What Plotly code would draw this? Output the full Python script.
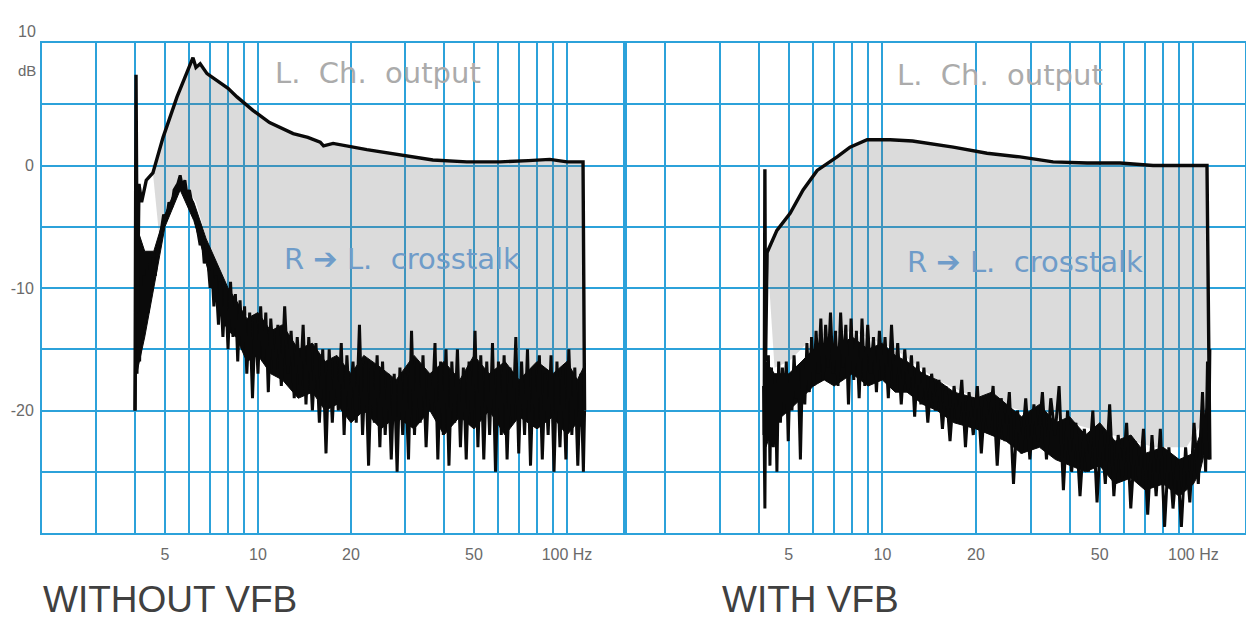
import math
import plotly.graph_objects as go

# ---------------- data ----------------
grid_freqs = [2, 3, 4, 5, 6, 7, 8, 9, 10, 20, 30, 40, 50, 60, 70, 80, 90, 100]
freq_labels = ["", "", "", "5", "", "", "", "", "10", "20", "", "", "50", "", "", "", "", "100 Hz"]
db_grid = [-30, -25, -20, -15, -10, -5, 0, 5, 10]
db_labels = ["", "", "-20", "", "-10", "", "0", "", ""]

# WITHOUT VFB : L Ch output
left_out_f = [4.0, 4.03, 4.07, 4.12, 4.2, 4.35, 4.57, 4.93, 5.47, 6.16, 6.3, 6.5, 6.84, 7.1, 7.53,
              8.0, 8.55, 9.63, 10.9, 13.0, 14.5, 15.9, 16.3, 17.5, 22.5, 28.8, 36.8, 47.4, 60.7,
              75.0, 88.0, 100.0, 112.7, 114.0]
left_out_db = [-20, 7.4, -12, -1.5, -3, -1.2, -0.6, 2.3, 5.6, 8.8, 8.0, 8.3, 7.5, 7.2, 6.7,
               6.3, 5.6, 4.5, 3.5, 2.6, 2.3, 1.9, 1.6, 1.8, 1.3, 0.9, 0.45, 0.3, 0.3,
               0.4, 0.5, 0.3, 0.3, -20]

# WITHOUT VFB : R -> L crosstalk
left_xt_f = [4.00, 4.03, 4.06, 4.10, 4.14, 4.18, 4.22, 4.27, 4.32, 4.37, 4.42, 4.47, 4.52, 4.58,
             4.65, 4.75, 4.85, 4.95, 5.05, 5.15, 5.25, 5.35, 5.5, 5.6, 5.7, 5.8, 5.9, 6.0, 6.1,
             6.2, 6.35, 6.5, 6.6, 6.7, 6.85, 7.0, 7.1, 7.2, 7.3, 7.45, 7.55, 7.7, 7.85, 8.0,
             8.15, 8.3, 8.45, 8.6, 8.75, 8.9, 9.05, 9.2, 9.4, 9.6, 9.8, 10.0, 10.2, 10.4, 10.6,
             10.8, 11.0, 11.3, 11.6, 11.9, 12.2, 12.5, 12.8, 13.1, 13.4, 13.7, 14.0, 14.3, 14.6,
             15.0, 15.4, 15.8, 16.2, 16.6, 17.0, 17.4, 17.8, 18.2, 18.6, 19.0, 19.4, 19.8, 20.3,
             20.8, 21.3, 21.8, 22.3, 22.8, 23.3, 23.8, 24.3, 24.8, 25.3, 25.8, 26.4, 27.0, 27.6,
             28.2, 28.8, 29.4, 30.0, 30.7, 31.4, 32.1, 32.8, 33.5, 34.2, 35.0, 35.8, 36.6, 37.4,
             38.2, 39.0, 39.8, 40.6, 41.5, 42.4, 43.3, 44.2, 45.2, 46.2, 47.2, 48.2, 49.3, 50.4,
             51.5, 52.6, 53.8, 55.0, 56.2, 57.4, 58.7, 60.0, 61.3, 62.6, 64.0, 65.4, 66.8, 68.3,
             69.8, 71.3, 72.9, 74.5, 76.2, 77.9, 79.6, 81.4, 83.2, 85.0, 86.9, 88.8, 90.8, 92.8,
             94.9, 97.0, 99.2, 101.4, 103.7, 106.0, 108.4, 110.8, 113.0, 114.0]
left_xt_db = [-20.0, -12, -17, -9, -16, -10, -14, -9, -13, -8.5, -12, -8, -10, -7.5,
              -9, -6.5, -5.5, -4, -4.5, -3, -3.5, -2, -1.5, -0.8, -1.8, -1.2, -2.5, -2.0, -3,
              -3.5, -5, -6.5, -5.8, -8, -7, -10, -8.5, -11.5, -9, -13, -9.5, -14, -10, -15,
              -9.5, -14, -10.5, -16, -11, -15, -11.5, -17, -12, -19, -12.5, -17, -11.5, -16, -12,
              -18.5, -12.5, -17, -13, -18, -11.5, -17, -13.5, -19, -14, -18, -13, -19.5, -14,
              -20, -14.5, -21, -15, -23.5, -15, -21, -16, -20, -14.5, -22, -15.5, -20, -16,
              -21, -13, -22, -16, -24.5, -16.5, -21, -15.5, -23, -16, -22, -17, -24, -17,
              -25, -16.5, -22, -17, -24, -13.5, -22, -16, -21, -15.5, -23, -17, -20, -14.5,
              -24, -16, -22, -15, -24.5, -16, -21, -15, -23, -16.5, -24, -16, -21, -13.5,
              -23, -15.5, -24, -16, -22, -14.5, -25, -16, -22, -15.5, -24, -16.5, -21, -14,
              -23.5, -16, -22, -15, -24.5, -16.5, -21, -15.5, -24, -17, -22, -15.5, -25, -16,
              -23, -16.5, -24, -15, -22, -16.5, -24.5, -17, -25, -20]

# solid core of the crosstalk trace, WITHOUT VFB
left_core_f = [4.05, 4.3, 4.6, 5.0, 5.6, 6.2, 6.8, 7.5, 8.0, 8.5, 9.2, 10, 11, 12, 13.5, 15, 16.5,
               18, 20, 22, 25, 28, 32, 36, 40, 45, 50, 56, 63, 70, 80, 90, 100, 108, 113]
left_core_hi = [-5, -7, -7, -4, -1, -3, -6, -8.5, -10, -11, -12.5, -12, -13.5, -13, -15, -14.5, -16,
                -15.5, -17, -15.5, -16.5, -17.5, -15.5, -17, -16, -17.5, -15.5, -17, -16, -17.5,
                -16, -17, -16, -17.5, -16.5]
left_core_lo = [-17, -14, -10, -5, -2, -4.5, -8, -12, -13.5, -14, -16, -15.5, -17, -17.5, -19, -18.5,
                -20, -19.5, -21, -20, -21.5, -20.5, -21.5, -20, -22, -20.5, -21.5, -20, -22, -20.5,
                -21.5, -20.5, -22, -21, -21.5]

# lower edge of the shaded area, WITHOUT VFB (from high to low frequency)
left_fill_low_f = [114, 90, 60, 40, 25, 16, 11, 9, 8, 7, 6.3, 5.6, 5.2, 4.8, 4.57]
left_fill_low_db = [-19, -19, -18.5, -18.5, -18, -17, -14, -12, -10, -7, -3, -1, -3.5, -6, -0.6]

# WITH VFB : L Ch output
right_out_f = [4.17, 4.19, 4.21, 4.26, 4.58, 5.05, 5.56, 6.17, 7.15, 7.87, 8.93, 10.6, 12.5,
               15.3, 16.9, 21.7, 27.7, 35.4, 45.5, 58.1, 74.2, 90.0, 110.6, 113.0]
right_out_db = [-22, -0.3, -16, -7.1, -5.3, -3.9, -2.0, -0.4, 0.7, 1.5, 2.1, 2.1, 2.0,
                1.7, 1.5, 1.0, 0.7, 0.3, 0.2, 0.2, 0.0, 0.0, 0.0, -24]

# WITH VFB : R -> L crosstalk
right_xt_f = [4.15, 4.19, 4.22, 4.26, 4.30, 4.35, 4.40, 4.46, 4.52, 4.58, 4.64, 4.70, 4.77, 4.84,
              4.91, 4.98, 5.05, 5.12, 5.20, 5.28, 5.36, 5.45, 5.54, 5.63, 5.72, 5.82, 5.92, 6.02,
              6.12, 6.23, 6.34, 6.45, 6.57, 6.69, 6.81, 6.94, 7.07, 7.2, 7.34, 7.48, 7.63, 7.78,
              7.93, 8.09, 8.25, 8.42, 8.6, 8.78, 8.97, 9.16, 9.36, 9.57, 9.78, 10.0, 10.2, 10.45,
              10.7, 10.95, 11.2, 11.5, 11.8, 12.1, 12.4, 12.7, 13.0, 13.3, 13.6, 14.0, 14.4, 14.8,
              15.2, 15.6, 16.0, 16.5, 17.0, 17.5, 18.0, 18.5, 19.0, 19.6, 20.2, 20.8, 21.4, 22.0,
              22.7, 23.4, 24.1, 24.8, 25.6, 26.4, 27.2, 28.0, 28.9, 29.8, 30.7, 31.7, 32.7, 33.7,
              34.8, 35.9, 37.0, 38.2, 39.4, 40.6, 41.9, 43.2, 44.6, 46.0, 47.5, 49.0, 50.5, 52.1,
              53.8, 55.5, 57.3, 59.1, 61.0, 62.9, 64.9, 67.0, 69.1, 71.3, 73.6, 75.9, 78.3, 80.8,
              83.4, 86.0, 88.7, 91.5, 94.4, 97.4, 100.5, 103.7, 107.0, 109.5, 111.0, 112.0, 113.0]
right_xt_db = [-18, -28, -16, -22, -15.5, -24.5, -16.5, -23, -17, -25, -16, -21, -16.5, -19.5,
               -16, -22.5, -17, -20, -15.5, -19, -16.5, -24, -16, -19.5, -14.5, -18.5, -14, -18,
               -13.5, -17, -12.5, -17.5, -13, -16.5, -12, -17, -13.5, -18, -12, -16.5, -13, -19.5,
               -12.5, -17.5, -13.5, -19, -12.5, -18, -13, -17, -14, -18.5, -13.5, -17.5, -14, -19,
               -13, -18, -14.5, -19.5, -15, -18.5, -15.5, -20.5, -16, -19.5, -16.5, -21, -17, -20,
               -17.5, -21.5, -18, -22.5, -18, -21, -17.5, -23, -18.5, -22, -18, -23.5, -19, -21.5,
               -18, -24.5, -19, -22.5, -18.5, -26, -20, -23.5, -19, -24, -19.5, -22.5, -18.5, -24,
               -19, -22, -18, -26.5, -20, -25, -21, -27, -21.5, -25, -20, -27.5, -21.5, -26,
               -19.5, -27, -22, -25.5, -21, -28, -22.5, -26, -21.5, -28.5, -22, -27, -21.5, -29.5,
               -23, -28, -24, -29.5, -23, -27.5, -21, -26, -18.5, -25, -16, -24, -15]

# solid core of the crosstalk trace, WITH VFB
right_core_f = [4.22, 4.5, 5, 5.5, 6, 6.5, 7, 8, 9, 10, 11, 12, 13.5, 15, 17, 20, 22.5, 25, 28, 32,
                36, 40, 45, 50, 56, 63, 70, 80, 90, 100, 105, 112]
right_core_hi = [-16, -17, -17, -16, -15, -14.5, -15, -14, -15, -14.5, -15.5, -16, -17, -17.5, -18.5,
                 -19, -18.5, -19.5, -20.5, -19.5, -21, -20.5, -22, -21, -22.5, -22, -23.5, -23, -24,
                 -23.5, -22, -19]
right_core_lo = [-23, -21, -20, -19, -18, -17.5, -18, -17, -18, -17.5, -18.5, -18.5, -19.5, -20, -21,
                 -21.5, -22, -22.5, -23.5, -23, -24, -24.5, -25, -24.5, -26, -25.5, -26.5, -26, -27,
                 -26, -25, -22]

# lower edge of the shaded area, WITH VFB (from high to low frequency)
right_fill_low_f = [113, 95, 75, 55, 40, 28, 20, 15, 11, 8, 6, 5, 4.5, 4.26]
right_fill_low_db = [-20, -23, -23, -22, -21, -20, -19, -17.5, -15, -13.5, -14, -16, -16.5, -7.1]

# ---------------- layout geometry ----------------
W, H = 1246, 623
ML, MT, MR, MB = 42, 43, 1, 90
PW = W - ML - MR
PH = H - MT - MB
split = (624.5 - ML) / PW

GRID = "#2ca2da"
LABEL = "#6a6a6a"
FONT = "Liberation Sans, Arial, sans-serif"
WIDEFONT = "DejaVu Sans, Liberation Sans, sans-serif"


def px(x):
    return (x - ML) / PW


def py(y):
    return (H - MB - y) / PH


fig = go.Figure()


def add_panel(out_f, out_db, xt_f, xt_db, core_f, core_hi, core_lo, low_f, low_db, start_idx, xa, ya):
    # shaded area between output and crosstalk
    poly_f = out_f[start_idx:-1] + low_f
    poly_db = out_db[start_idx:-1] + low_db
    fig.add_trace(go.Scatter(x=poly_f, y=poly_db, mode="lines", fill="toself",
                             fillcolor="rgba(110,110,110,0.25)", line=dict(width=0),
                             hoverinfo="skip", showlegend=False, xaxis=xa, yaxis=ya))
    # dense core of the noisy crosstalk trace
    fig.add_trace(go.Scatter(x=core_f + core_f[::-1], y=core_hi + core_lo[::-1], mode="lines",
                             fill="toself", fillcolor="#0a0a0a", line=dict(width=1, color="#0a0a0a"),
                             hoverinfo="skip", showlegend=False, xaxis=xa, yaxis=ya))
    fig.add_trace(go.Scatter(x=xt_f, y=xt_db, mode="lines",
                             line=dict(color="#0a0a0a", width=3),
                             showlegend=False, xaxis=xa, yaxis=ya))
    fig.add_trace(go.Scatter(x=out_f, y=out_db, mode="lines",
                             line=dict(color="#0a0a0a", width=3.4),
                             showlegend=False, xaxis=xa, yaxis=ya))


add_panel(left_out_f, left_out_db, left_xt_f, left_xt_db, left_core_f, left_core_hi, left_core_lo,
          left_fill_low_f, left_fill_low_db, 6, "x", "y")
add_panel(right_out_f, right_out_db, right_xt_f, right_xt_db, right_core_f, right_core_hi, right_core_lo,
          right_fill_low_f, right_fill_low_db, 3, "x2", "y2")

xcommon = dict(type="log", tickmode="array", tickvals=grid_freqs, ticktext=freq_labels,
               showgrid=True, gridcolor=GRID, gridwidth=2, zeroline=False,
               showline=True, mirror=True, linecolor=GRID, linewidth=2,
               ticks="", ticklabelstandoff=6, automargin=False,
               tickfont=dict(family=FONT, size=16, color=LABEL))
ycommon = dict(range=[-30, 10], tickmode="array", tickvals=db_grid, ticktext=db_labels,
               showgrid=True, gridcolor=GRID, gridwidth=2, zeroline=False,
               showline=True, mirror=True, linecolor=GRID, linewidth=2,
               ticks="", automargin=False, tickfont=dict(family=FONT, size=16, color=LABEL))

fig.update_layout(
    width=W, height=H,
    margin=dict(l=ML, r=MR, t=MT, b=MB, autoexpand=False),
    paper_bgcolor="white", plot_bgcolor="white",
    xaxis=dict(domain=[0, split], range=[math.log10(2), math.log10(2) + (624.5 - 42) / 309], **xcommon),
    xaxis2=dict(domain=[split, 1], range=[math.log10(2) - (665 - 624.5) / 311,
                                          math.log10(2) + (1245 - 665) / 311], anchor="y2", **xcommon),
    yaxis=dict(domain=[0, 1], anchor="x", showticklabels=True, ticklabelstandoff=3, **ycommon),
    yaxis2=dict(domain=[0, 1], anchor="x2", showticklabels=False, **ycommon),
)

ann = []


def text(x, y, s, size, color, family=FONT, xanchor="center", yanchor="middle"):
    ann.append(dict(x=px(x), y=py(y), xref="paper", yref="paper", text=s, showarrow=False,
                    xanchor=xanchor, yanchor=yanchor,
                    font=dict(family=family, size=size, color=color)))


text(38, 32, "10", 16, LABEL, xanchor="right")
text(38, 70, "dB", 15, LABEL, xanchor="right")
text(378, 73, "L.  Ch.  output", 29, "#ababab", WIDEFONT)
text(402, 259, "R \u2794 L.  crosstalk", 29, "#6f9cc9", WIDEFONT)
text(1000, 75, "L.  Ch.  output", 29, "#ababab", WIDEFONT)
text(1025, 262, "R \u2794 L.  crosstalk", 29, "#6f9cc9", WIDEFONT)
text(170, 622, "WITHOUT VFB", 37, "#404040", yanchor="bottom")
text(810, 622, "WITH VFB", 37, "#404040", yanchor="bottom")
fig.update_layout(annotations=ann)

fig.write_html("out.html", config={"displayModeBar": False},
               post_script="document.body.style.margin='0';document.body.style.padding='0';")
